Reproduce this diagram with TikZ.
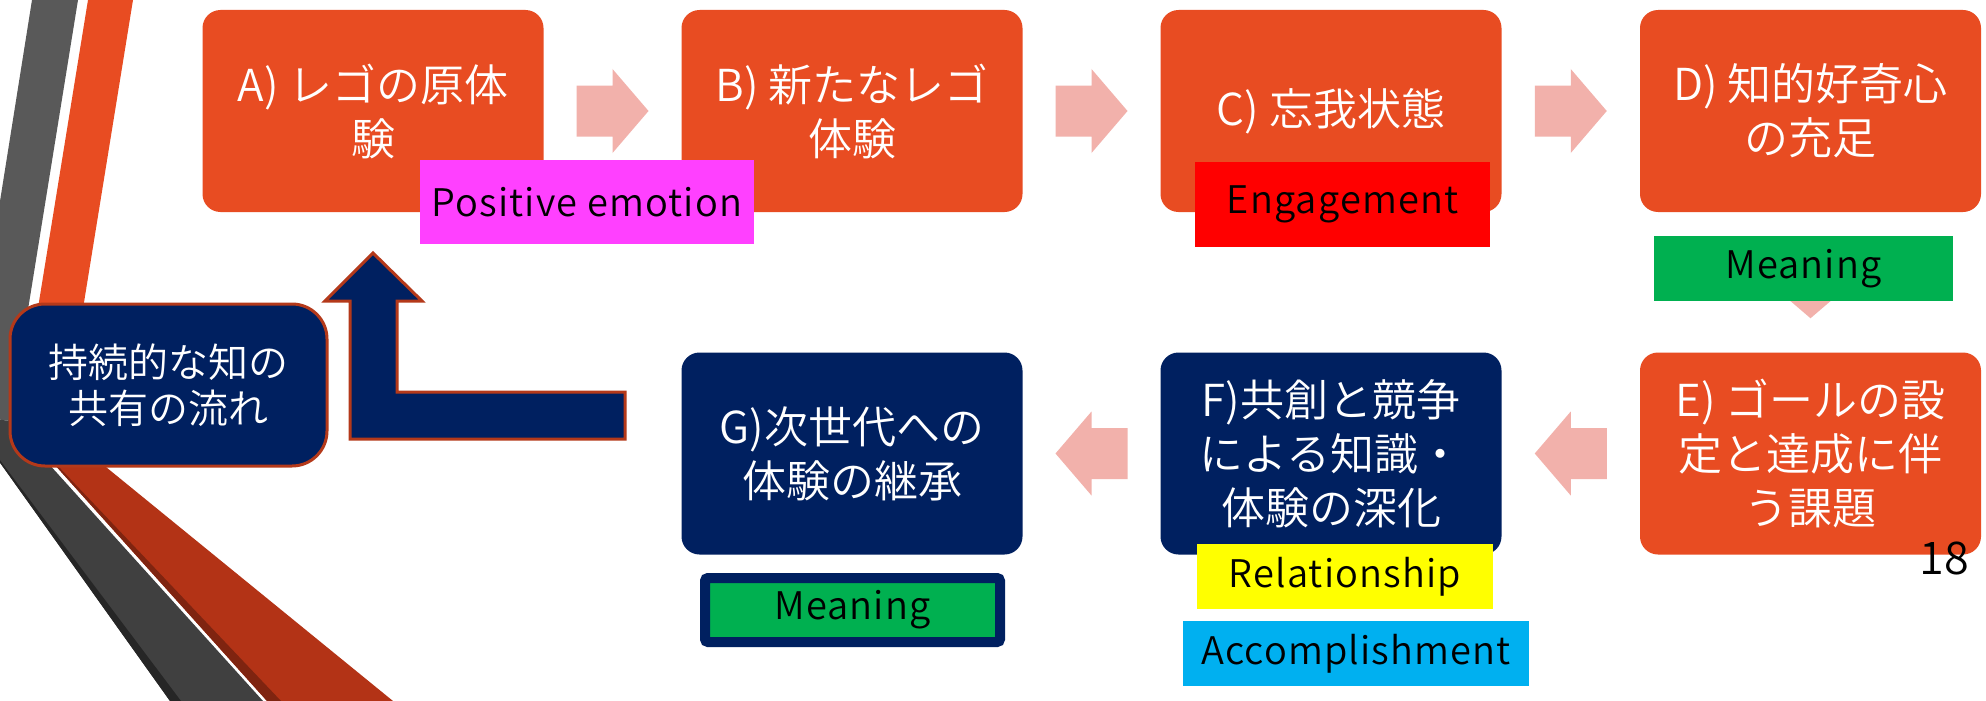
\documentclass[tikz,border=0pt]{standalone}
\usepackage{fontspec}
\setmainfont{Noto Sans CJK JP}[UprightFont={* DemiLight}]
\usetikzlibrary{calc}
\definecolor{boxorange}{RGB}{232,76,34}
\definecolor{navy}{RGB}{0,32,96}
\definecolor{arrowpink}{RGB}{242,177,171}
\definecolor{bandgray}{RGB}{89,89,89}
\definecolor{banddark}{RGB}{64,64,64}
\definecolor{bandedge}{RGB}{38,38,38}
\definecolor{bandred}{RGB}{179,51,22}
\definecolor{bandrededge}{RGB}{127,36,16}
\definecolor{rimorange}{RGB}{180,57,26}
\definecolor{labmagenta}{RGB}{255,64,255}
\definecolor{labgreen}{RGB}{0,176,80}
\definecolor{labcyan}{RGB}{0,176,240}
\definecolor{labred}{RGB}{255,0,0}
\definecolor{labyellow}{RGB}{255,255,0}
\tikzset{
  pics/arrowright/.style={code={\fill[arrowpink] (-36,-25.5) -- (0,-25.5) -- (0,-42) -- (36,0) -- (0,42) -- (0,25.5) -- (-36,25.5) -- cycle;}},
  pics/arrowleft/.style={code={\fill[arrowpink] (36,-25.5) -- (0,-25.5) -- (0,-42) -- (-36,0) -- (0,42) -- (0,25.5) -- (36,25.5) -- cycle;}},
  pics/arrowdown/.style={code={\fill[arrowpink] (-25.5,-36) -- (-25.5,0) -- (-42,0) -- (0,36) -- (42,0) -- (25.5,0) -- (25.5,-36) -- cycle;}}
}
\begin{document}
\begin{tikzpicture}[x=1pt,y=-1pt,
  stagebox/.style={rounded corners=18pt, minimum width=341pt, minimum height=202pt, inner sep=0pt, align=center, text=white, font=\fontsize{44pt}{54pt}\selectfont},
  orangebox/.style={stagebox, fill=boxorange},
  navybox/.style={stagebox, fill=navy},
  labelbox/.style={inner sep=0pt, text=black, font=\fontsize{38pt}{46pt}\selectfont\addfontfeatures{LetterSpace=3}}
]
\useasboundingbox (0,0) rectangle (1986,701);
\clip (0,0) rectangle (1986,701);
\fill[white] (0,0) rectangle (1986,701);
% decorative bands
\fill[bandgray] (32,0) -- (78,0) -- (10,421) -- (-34,415) -- cycle;
\fill[banddark] (-34,415) -- (10,421) -- (263,701) -- (170,701) -- cycle;
\fill[bandedge] (-34,415) -- (181,701) -- (170,701) -- cycle;
\fill[boxorange] (88,0) -- (133,0) -- (63,432) -- (19,425) -- cycle;
\fill[bandred] (19,425) -- (63,432) -- (393,701) -- (267,701) -- cycle;
\fill[bandrededge] (19,425) -- (281,701) -- (267,701) -- cycle;
% left box and bent arrow
\node[rounded corners=35pt, minimum width=317pt, minimum height=162pt, inner sep=0pt, fill=navy, draw=rimorange, line width=3pt, align=center, text=white, font=\fontsize{40pt}{46pt}\selectfont] (L) at (168.5,385) {持続的な知の\\共有の流れ};
\draw[rimorange, line width=3pt, fill=navy, line join=miter] (373,253) -- (422,301) -- (397,301) -- (397,392) -- (625,392) -- (625,439) -- (350,439) -- (350,301) -- (325,301) -- cycle;
% stage boxes
\node[orangebox] (A) at (373,111) {A) レゴの原体\\験};
\node[orangebox] (B) at (852,111) {B) 新たなレゴ\\体験};
\node[orangebox] (C) at (1331,111) {C) 忘我状態};
\node[orangebox] (D) at (1810.5,111) {D) 知的好奇心\\の充足};
\node[orangebox] (E) at (1810.5,453.5) {E) ゴールの設\\定と達成に伴\\う課題};
\node[navybox] (F) at (1331,453.5) {F)共創と競争\\による知識・\\体験の深化};
\node[navybox] (G) at (852,453.5) {G)次世代への\\体験の継承};
% block arrows
\pic at ($(A.east)!0.5!(B.west)$) {arrowright};
\pic at ($(B.east)!0.5!(C.west)$) {arrowright};
\pic at ($(C.east)!0.5!(D.west)$) {arrowright};
\pic at ($(D.south)!0.5!(E.north)$) {arrowdown};
\pic at ($(E.west)!0.5!(F.east)$) {arrowleft};
\pic at ($(F.west)!0.5!(G.east)$) {arrowleft};
% labels
\node[labelbox, fill=labmagenta, minimum width=334pt, minimum height=84pt] (pos) at (587,202) {Positive emotion};
\node[labelbox, fill=labred, minimum width=295pt, minimum height=85pt] (eng) at (1342.5,204.5) {Engagement};
\node[labelbox, fill=labgreen, minimum width=299pt, minimum height=65pt] (mD) at (1803.5,268.5) {Meaning};
\node[labelbox, fill=labgreen, draw=navy, line width=10pt, rounded corners=3pt, minimum width=295pt, minimum height=64pt] (mG) at (852.5,610) {Meaning};
\node[labelbox, fill=labyellow, minimum width=296pt, minimum height=65pt] (rel) at (1345,576.5) {Relationship};
\node[labelbox, fill=labcyan, minimum width=346pt, minimum height=65pt] (acc) at (1356,653.5) {Accomplishment};
% page number
\node[inner sep=0pt, text=black, font=\fontsize{45pt}{45pt}\selectfont] (pg) at (1944,558.5) {18};
\end{tikzpicture}
\end{document}
